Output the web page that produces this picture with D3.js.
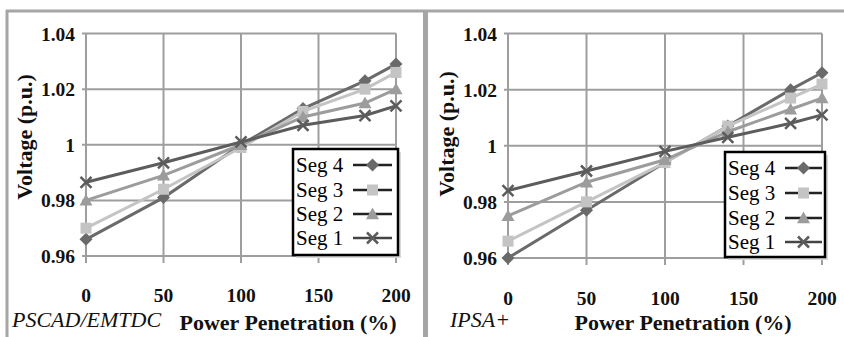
<!DOCTYPE html>
<html>
<head>
<meta charset="utf-8">
<script src="https://cdn.jsdelivr.net/npm/d3@7"></script>
</head>
<body style="margin:0;background:#fff">
<svg id="s" width="844" height="337"></svg>
<script>
// ---- Data ----
const xValues = [0, 50, 100, 140, 180, 200];
const xTicks = [0, 50, 100, 150, 200];
const yTicks = [0.96, 0.98, 1.0, 1.02, 1.04];
const yTickLabels = ["0.96", "0.98", "1", "1.02", "1.04"];
const seriesNames = ["Seg 4", "Seg 3", "Seg 2", "Seg 1"];

const pscadSeg4 = [0.966, 0.981, 1.000, 1.013, 1.023, 1.029];
const pscadSeg3 = [0.970, 0.984, 0.999, 1.012, 1.020, 1.026];
const pscadSeg2 = [0.980, 0.989, 1.000, 1.010, 1.015, 1.020];
const pscadSeg1 = [0.9865, 0.9935, 1.001, 1.007, 1.0105, 1.014];

const ipsaSeg4 = [0.960, 0.977, 0.994, 1.007, 1.020, 1.026];
const ipsaSeg3 = [0.966, 0.980, 0.994, 1.007, 1.017, 1.022];
const ipsaSeg2 = [0.975, 0.987, 0.995, 1.005, 1.013, 1.017];
const ipsaSeg1 = [0.984, 0.991, 0.998, 1.003, 1.008, 1.011];

const panelTitles = ["PSCAD/EMTDC", "IPSA+"];
const xTitle = "Power Penetration (%)";
const yTitle = "Voltage (p.u.)";

// ---- Styles ----
const colors = ["#6a6a6a", "#c4c4c4", "#9c9c9c", "#5c5c5c"];
const markerTypes = ["diamond", "square", "triangle", "cross"];
const gridColor = "#9e9e9e";
const FONT = '"Liberation Serif"';

const svg = d3.select("#s");

// frame
svg.append("line").attr("x1", 6).attr("x2", 844).attr("y1", 11).attr("y2", 11)
  .attr("stroke", "#a6a6a6").attr("stroke-width", 3);
svg.append("line").attr("x1", 7).attr("x2", 7).attr("y1", 10).attr("y2", 337)
  .attr("stroke", "#a6a6a6").attr("stroke-width", 3);
svg.append("rect").attr("x", 423).attr("y", 10).attr("width", 5).attr("height", 327)
  .attr("fill", "#a6a6a6");

const panels = [
  { data: [pscadSeg4, pscadSeg3, pscadSeg2, pscadSeg1], x0: 86, x1: 396, yTop: 33.5, yBot: 256, gridBot: 263,
    yLabelX: 75, xLabelY: 302, yTitleX: 25, yTitleY: 137, xTitleX: 288, titleX: 12,
    legend: { x: 293, y: 149, w: 105, h: 106, rows: [165, 190, 214, 238], lx1: 353, lx2: 392 } },
  { data: [ipsaSeg4, ipsaSeg3, ipsaSeg2, ipsaSeg1], x0: 508, x1: 822, yTop: 33.5, yBot: 258, gridBot: 265,
    yLabelX: 497, xLabelY: 305, yTitleX: 447, yTitleY: 134, xTitleX: 683, titleX: 450,
    legend: { x: 725, y: 152, w: 100, h: 105, rows: [168, 193, 218, 242], lx1: 785, lx2: 822 } }
];

function drawMarker(g, type, cx, cy, color) {
  if (type === "diamond") {
    const s = 6.5;
    g.append("path").attr("d", `M${cx},${cy - s}L${cx + s},${cy}L${cx},${cy + s}L${cx - s},${cy}Z`)
      .attr("fill", color);
  } else if (type === "square") {
    const s = 5.5;
    g.append("rect").attr("x", cx - s).attr("y", cy - s).attr("width", 2 * s).attr("height", 2 * s)
      .attr("fill", color);
  } else if (type === "triangle") {
    const s = 6.5;
    g.append("path").attr("d", `M${cx},${cy - s}L${cx + s},${cy + s * 0.8}L${cx - s},${cy + s * 0.8}Z`)
      .attr("fill", color);
  } else {
    const s = 5.5;
    g.append("path").attr("d", `M${cx - s},${cy - s}L${cx + s},${cy + s}M${cx + s},${cy - s}L${cx - s},${cy + s}`)
      .attr("stroke", color).attr("stroke-width", 2.5).attr("fill", "none");
  }
}

panels.forEach((p, pi) => {
  const x = d3.scaleLinear().domain([0, 200]).range([p.x0, p.x1]);
  const y = d3.scaleLinear().domain([0.96, 1.04]).range([p.yBot, p.yTop]);
  const g = svg.append("g");

  g.selectAll(".hg").data(yTicks).enter().append("line")
    .attr("x1", p.x0 - 4).attr("x2", p.x1)
    .attr("y1", d => y(d)).attr("y2", d => y(d))
    .attr("stroke", gridColor).attr("stroke-width", 2);
  g.selectAll(".vg").data(xTicks).enter().append("line")
    .attr("x1", d => x(d)).attr("x2", d => x(d))
    .attr("y1", p.yTop).attr("y2", p.gridBot)
    .attr("stroke", gridColor).attr("stroke-width", 2);

  g.selectAll(".yl").data(yTicks).enter().append("text")
    .attr("x", p.yLabelX).attr("y", d => y(d) + 7)
    .attr("text-anchor", "end")
    .style("font-family", FONT).style("font-weight", "bold").style("font-size", "19.5px")
    .attr("fill", "#111")
    .text((d, i) => yTickLabels[i]);
  g.selectAll(".xl").data(xTicks).enter().append("text")
    .attr("x", d => x(d)).attr("y", p.xLabelY)
    .attr("text-anchor", "middle")
    .style("font-family", FONT).style("font-weight", "bold").style("font-size", "19.5px")
    .attr("fill", "#111")
    .text(d => d);

  p.data.forEach((vals, si) => {
    const pts = xValues.map((xv, k) => [xv, vals[k]]);
    g.append("path").datum(pts)
      .attr("d", d3.line().x(d => x(d[0])).y(d => y(d[1])))
      .attr("fill", "none").attr("stroke", colors[si]).attr("stroke-width", 3);
    pts.forEach(d => drawMarker(g, markerTypes[si], x(d[0]), y(d[1]), colors[si]));
  });

  const L = p.legend;
  g.append("rect").attr("x", L.x + 3).attr("y", L.y + 3).attr("width", L.w).attr("height", L.h)
    .attr("fill", "#d8d8d8");
  g.append("rect").attr("x", L.x).attr("y", L.y).attr("width", L.w).attr("height", L.h)
    .attr("fill", "#fff").attr("stroke", "#000").attr("stroke-width", 2.5);
  seriesNames.forEach((name, si) => {
    const cy = L.rows[si];
    g.append("text").attr("x", L.x + 3).attr("y", cy + 7)
      .style("font-family", FONT).style("font-size", "21px").attr("fill", "#000")
      .text(name);
    g.append("line").attr("x1", L.lx1).attr("x2", L.lx2).attr("y1", cy).attr("y2", cy)
      .attr("stroke", si === 3 ? "#444" : "#222").attr("stroke-width", 2.5);
    drawMarker(g, markerTypes[si], (L.lx1 + L.lx2) / 2, cy, colors[si]);
  });

  g.append("text").attr("x", p.xTitleX).attr("y", 330)
    .attr("text-anchor", "middle")
    .style("font-family", FONT).style("font-weight", "bold").style("font-size", "22px")
    .attr("fill", "#111").text(xTitle);
  g.append("text")
    .attr("transform", `translate(${p.yTitleX + 7},${p.yTitleY}) rotate(-90)`)
    .attr("text-anchor", "middle")
    .style("font-family", FONT).style("font-weight", "bold").style("font-size", "22px")
    .attr("fill", "#111").text(yTitle);
  g.append("text").attr("x", p.titleX).attr("y", 327)
    .style("font-family", FONT).style("font-style", "italic").style("font-size", "22px")
    .attr("fill", "#111").text(panelTitles[pi]);
});
</script>
</body>
</html>
